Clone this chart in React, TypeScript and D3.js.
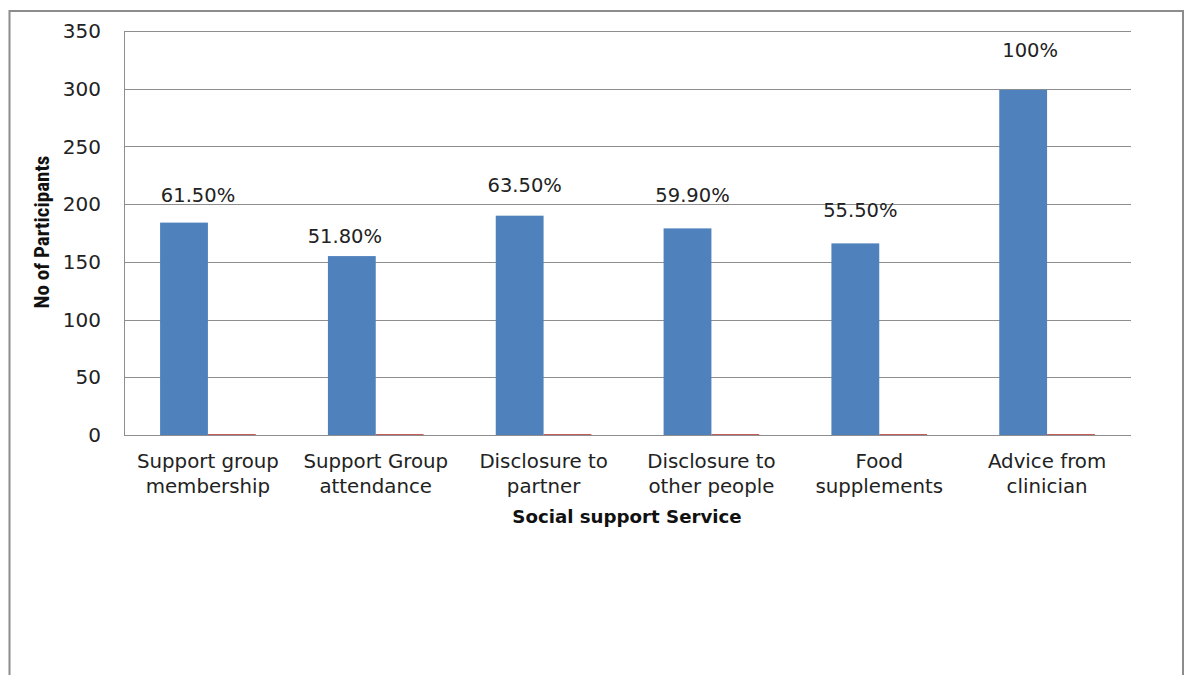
import React from "react";
import * as d3 from "d3";

const categories: string[][] = [
  ["Support group", "membership"],
  ["Support Group", "attendance"],
  ["Disclosure to", "partner"],
  ["Disclosure to", "other people"],
  ["Food", "supplements"],
  ["Advice from", "clinician"],
];
const yesValues: number[] = [184, 155, 190, 179, 166, 299];
const noValues: number[] = [0.8, 0.8, 0.8, 0.8, 0.8, 0.8];
const pctLabels: string[] = ["61.50%", "51.80%", "63.50%", "59.90%", "55.50%", "100%"];
const yTicks: number[] = [0, 50, 100, 150, 200, 250, 300, 350];

// manual label offsets (px: text centre above bar top, horizontal shift), as placed in the original
const labelGap: number[] = [28, 20, 31, 33, 33, 40];
const labelDx: number[] = [14, -7, 5, 5, 5, 7];

const W = 1187;
const H = 675;
const M = { left: 124, right: 1131, top: 31, bottom: 435 };
const FONT = "'DejaVu Sans', 'Noto Sans', sans-serif";

export default function App() {
  const x0 = d3
    .scaleBand<number>()
    .domain(categories.map((_, i) => i))
    .range([M.left, M.right])
    .paddingInner(0.43)
    .paddingOuter(0.215);
  const x1 = d3.scaleBand<string>().domain(["yes", "no"]).range([0, x0.bandwidth()]);
  const y = d3.scaleLinear().domain([0, 350]).range([M.bottom, M.top]);

  return (
    <svg
      width={W}
      height={H}
      style={{ position: "absolute", left: 0, top: 0, background: "#fff" }}
    >
      <rect x={0} y={0} width={W} height={H} fill="#fff" />
      {/* outer frame */}
      <path d={`M9.5,${H + 5} V11 H1183 V${H + 5}`} fill="none" stroke="#8c8c8c" strokeWidth={2} />

      {/* gridlines */}
      {yTicks.map((t) => (
        <line
          key={t}
          x1={M.left}
          x2={M.right}
          y1={Math.round(y(t)) + 0.5}
          y2={Math.round(y(t)) + 0.5}
          stroke="#8e8e8e"
          strokeWidth={1}
        />
      ))}
      <line x1={M.left + 0.5} x2={M.left + 0.5} y1={M.top} y2={M.bottom} stroke="#8e8e8e" />

      {/* y tick labels */}
      {yTicks.map((t) => (
        <text
          key={"t" + t}
          x={101}
          y={y(t)}
          dy="0.36em"
          textAnchor="end"
          fontFamily={FONT}
          fontSize={20}
          fill="#222"
        >
          {t}
        </text>
      ))}

      {/* bars */}
      {categories.map((_, i) => {
        const gx = x0(i)!;
        const yesX = gx + x1("yes")!;
        const noX = gx + x1("no")!;
        const bw = x1.bandwidth();
        return (
          <g key={"b" + i}>
            <rect x={yesX} y={y(yesValues[i])} width={bw} height={M.bottom - y(yesValues[i])} fill="#4f81bd" />
            <rect x={noX} y={y(noValues[i])} width={bw} height={M.bottom - y(noValues[i])} fill="#c0504d" />
            <text
              x={yesX + bw / 2 + labelDx[i]}
              y={y(yesValues[i]) - labelGap[i]}
              dy="0.36em"
              textAnchor="middle"
              fontFamily={FONT}
              fontSize={19.5}
              fill="#222"
            >
              {pctLabels[i]}
            </text>
          </g>
        );
      })}

      {/* x category labels */}
      {categories.map((lines, i) => {
        const cx = x0(i)! + x0.bandwidth() / 2;
        return (
          <text key={"c" + i} textAnchor="middle" fontFamily={FONT} fontSize={19.8} fill="#222">
            {lines.map((l, k) => (
              <tspan key={k} x={cx} y={468 + k * 25}>
                {l}
              </tspan>
            ))}
          </text>
        );
      })}

      {/* axis titles */}
      <text
        x={627}
        y={523}
        textAnchor="middle"
        fontFamily={FONT}
        fontWeight="bold"
        fontSize={18.2}
        fill="#111"
      >
        Social support Service
      </text>
      <text
        transform={`translate(49,232) rotate(-90)`}
        textAnchor="middle"
        fontFamily="'Liberation Sans Narrow', 'Roboto Condensed', sans-serif"
        fontWeight="bold"
        fontSize={21}
        fill="#111"
      >
        No of Participants
      </text>
    </svg>
  );
}
